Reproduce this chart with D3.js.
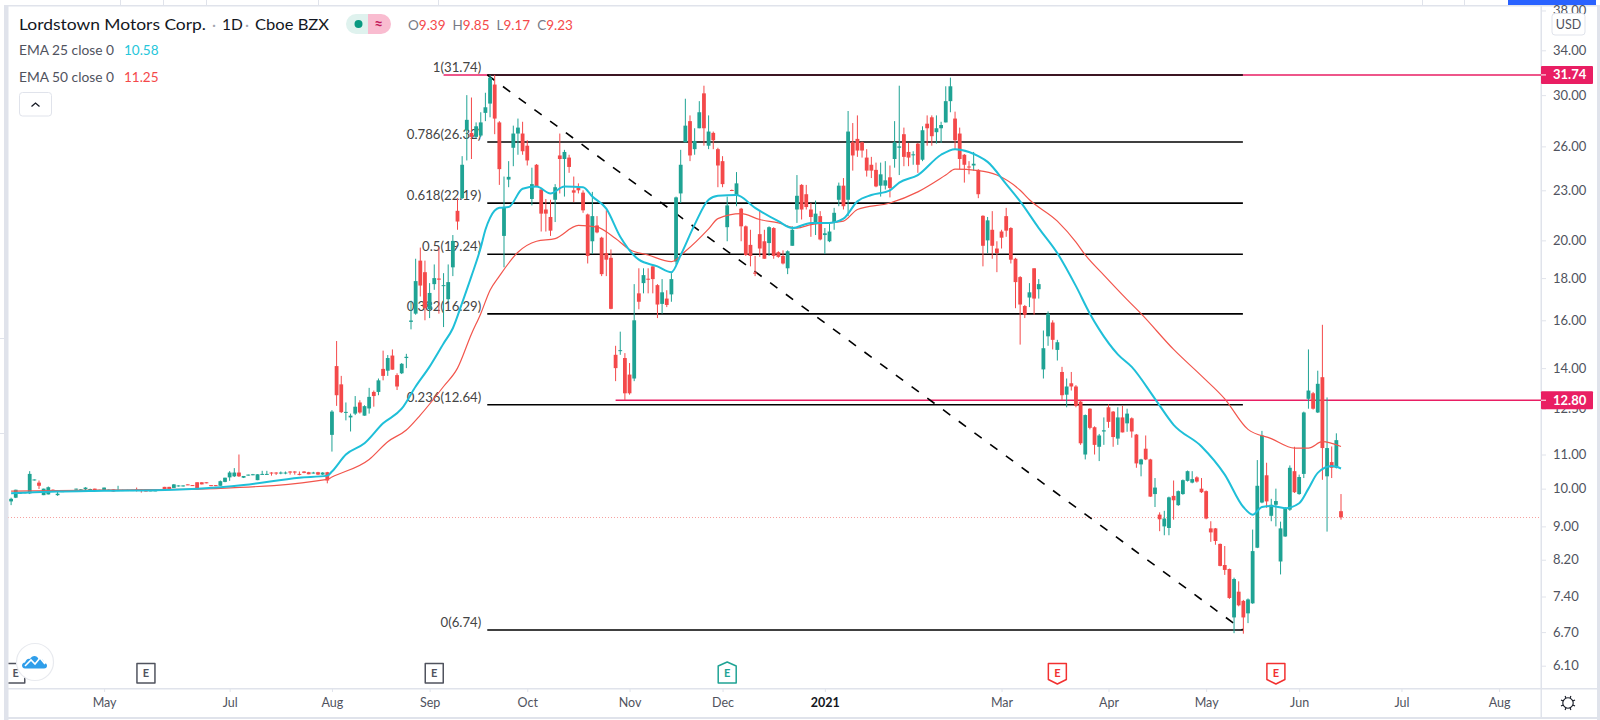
<!DOCTYPE html>
<html>
<head>
<meta charset="utf-8">
<style>
  html, body { margin: 0; padding: 0; background: #fff; overflow: hidden; }
  svg { display: block; }
  text { font-family: Lato, "Open Sans", sans-serif; }
</style>
<script src="https://cdn.jsdelivr.net/npm/d3@7"></script>
</head>
<body>
<svg></svg>
<script>
let svgWidth = 1600;
let svgHeight = 720;

// daily bars, index 0 is the leftmost candle
let opens = [
  9.65,9.75,9.87,9.89,9.87,10.24,10.17,9.82,9.84,9.97,
  9.82,9.92,9.93,9.94,9.98,9.97,9.98,9.98,10,9.97,
  9.95,9.96,9.98,9.95,9.95,9.95,9.95,9.98,9.98,9.98,
  9.94,9.94,9.99,10.05,10.05,10.02,10.07,10.07,10.12,10.1,
  10.18,10.18,10.18,10.1,10.1,10.08,10.19,10.32,10.35,10.46,
  10.31,10.38,10.39,10.24,10.4,10.4,10.46,10.46,10.44,10.44,
  10.49,10.49,10.42,10.49,10.47,10.44,10.47,10.4,10.47,11.62,
  14.08,13.38,12.37,12.2,12.33,12.72,12.26,12.51,13.1,13.1,
  13.97,13.9,14.5,13.73,13.8,14.4,15.93,16.3,18.9,18.3,
  16.5,17.7,17.98,17.6,16.97,18.55,21.72,22.5,27.2,27,
  26.7,26.8,28.55,29.3,30.9,27.8,20.25,23.7,25.9,26.95,
  26.95,26.05,22.45,24.7,23.05,21.8,21.35,22.4,25.35,25.1,
  25.2,23,23.15,22.85,21.5,19.95,20.85,20.15,19.3,19.05,
  14.53,14.68,14.4,13.75,13.6,17.25,17.75,17.97,18.6,17.65,
  16.75,17,17.2,18.85,22.8,26.3,27.9,25.8,27.35,30.15,
  26.05,27,25.8,24.95,20.75,23.02,22.65,21.85,20.8,19.75,
  18.28,20.35,19.95,19.85,20.7,19.35,19.15,18.5,19.7,21.8,
  23.35,22.75,21.8,21,21.4,20.3,19.95,21,22.4,23.3,
  22.4,26.3,26.55,26.3,25.2,24.7,24.35,23.3,23.3,23.85,
  25.1,25.9,26.9,25.6,25.37,26.2,25.05,27.7,28.2,27.05,
  27.35,27.8,29.5,28.1,26.95,25.4,24.58,24.65,24.35,21.42,
  20,20.6,19.55,20.5,21.4,20.7,19,18.05,16.65,17.05,
  18.5,17.45,13.95,15.3,15.9,14.73,13.85,13,13.42,13.3,
  12.75,11,12.5,11.87,11.24,11.73,12.55,12.4,11.5,12.2,
  12,12.17,11.63,10.7,11.18,10.85,9.85,9.3,9,8.96,
  9.8,9.55,9.85,10.22,10.17,10.32,10,9.93,8.95,8.95,
  8.57,8.08,7.99,6.98,7.5,7.31,7.06,7.26,8.48,9.62,
  10.38,9.27,9.56,8.16,8.75,9.43,10.5,9.85,10.42,12.85,
  13.05,12.37,13.65,10.35,10.77,10.6,9.39
];
let highs = [
  9.75,9.97,9.9,9.9,10.5,10.26,10.23,10,10.06,9.98,
  9.95,9.93,9.95,9.96,10,9.99,10.04,10,10,9.97,
  10.03,9.98,9.98,10.08,9.97,9.97,9.97,10.03,9.98,9.98,
  9.96,9.96,9.99,10.05,10.05,10.13,10.09,10.09,10.12,10.1,
  10.18,10.18,10.18,10.1,10.1,10.23,10.31,10.5,10.59,11,
  10.36,10.4,10.42,10.41,10.51,10.51,10.47,10.47,10.49,10.49,
  10.5,10.5,10.49,10.5,10.48,10.48,10.48,10.47,10.48,12.45,
  15.1,13.7,12.72,12.33,12.95,12.8,12.62,13.25,13.15,13.6,
  14.7,14.52,14.75,13.8,14.2,14.57,16.9,19,19.6,18.9,
  17.75,18.7,19.6,18.25,18.7,20.3,22.5,25.3,30,29.8,
  27.8,28.6,30.2,31.74,31.74,27.9,23.9,24.95,27.55,28.1,
  27.85,26.45,24.5,24.75,23.1,22.45,22.4,23.4,26.95,25.75,
  25.4,23.9,23.45,23,21.55,22.9,21.4,20.2,21.75,19.5,
  14.9,15.5,14.6,14.2,17.7,18.5,18.5,18.5,18.6,17.7,
  17.95,17.4,18.25,22.6,25.75,29.7,28.35,27.35,29.5,30.8,
  28.35,27.1,25.9,25.3,22.6,23.05,24.2,21.9,20.85,20.6,
  19.15,21.75,20.6,20.8,20.75,19.4,19.45,19.45,20.8,24,
  23.4,23.35,22.2,22.35,21.7,20.7,21,21.9,23.5,23.8,
  28.7,27.75,28.35,26.35,25.8,25.25,24.85,24.85,24.95,24.65,
  27.9,30.8,27.4,26.25,25.65,26.25,27.5,28.35,28.35,28.35,
  27.85,30.75,31.5,28.65,27.4,25.45,24.95,25.6,24.4,21.45,
  21.35,21.7,19.95,20.6,21.9,20.75,19.05,18.1,16.7,17.75,
  18.5,17.95,15.55,16.4,16,15.15,14.05,13.6,13.85,13.35,
  12.8,12.3,12.52,11.9,11.65,12.2,12.65,12.42,12.55,12.6,
  12.5,12.2,11.65,10.87,11.6,10.87,10.3,9.36,9.4,9.78,
  10.23,9.95,10.26,10.52,10.5,10.35,10.3,9.95,9.13,8.96,
  8.58,8.52,8,7.8,7.72,7.33,7.36,8.92,10.83,11.75,
  10.75,9.72,10,9.12,9.5,10.67,11.24,10.4,12.4,14.75,
  13.1,13.9,15.8,12.9,11.25,11.67,9.85
];
let lows = [
  9.55,9.74,9.86,9.87,9.85,10.23,9.99,9.82,9.84,9.94,
  9.8,9.91,9.92,9.93,9.97,9.96,9.95,9.97,9.95,9.95,
  9.95,9.95,9.92,9.95,9.94,9.94,9.94,9.92,9.89,9.92,
  9.93,9.93,9.96,9.96,9.96,10.02,10.06,10.06,10.1,10.08,
  9.98,10.12,10.15,10.07,10.07,10.08,10.18,10.22,10.33,10.33,
  10.3,10.37,10.38,10.24,10.39,10.39,10.37,10.39,10.41,10.41,
  10.4,10.4,10.38,10.44,10.41,10.43,10.39,10.39,10.15,11.09,
  12.6,12.35,12.1,11.73,12.28,12.33,12.26,12.33,12.57,12.98,
  13.53,13.7,13.94,13.17,13.77,14,15.6,16.25,17.1,16,
  16.1,17.42,16.3,15.7,16.85,18.1,20.6,22.45,25,25.1,
  26.6,26.7,27.9,28.2,26.9,23.35,18.55,23.2,24.6,25.4,
  25.4,24.65,22.05,23.2,20.5,20.5,20.25,21.05,22.8,22.6,
  24.15,22.25,22.8,21.6,18.75,19.25,20.4,18.1,18.1,16.5,
  13.5,14.53,12.8,13,13.5,16.5,17.25,17.25,17.25,16.1,
  16.3,16.6,16.85,18.7,22.2,26.3,24.95,25.4,27.35,26.05,
  25.8,25.8,23.2,23.2,19.95,22.95,22,19.95,19.15,18.6,
  18.1,19.1,19,19.15,19,19.05,18.7,18.2,19.7,21,
  21.2,21.8,20.2,20.3,20,19.25,19.9,20.6,22,21.8,
  21.4,24.3,25.25,25.2,23.9,23.8,23.2,22.6,23.05,22.55,
  24.5,24,24.6,24.6,24.7,24.15,24.95,26.05,26.05,26.2,
  26.25,27.8,28.6,25.8,24.4,23.5,24.05,24.3,22.5,18.6,
  19.3,19,18.3,19.55,20.2,18.75,16.55,14.95,16.1,16.6,
  16.25,17,13.6,14.9,14.75,14.3,12.81,12.55,13.15,12.55,
  11.3,10.85,11.8,11,10.8,11.3,11.85,11.24,11.3,11.7,
  11.72,11.53,10.6,10.35,10.83,9.77,9.5,8.88,8.78,8.78,
  9.17,9.53,9.83,10.2,10.15,10.17,9.88,9.18,8.62,8.55,
  8.05,7.86,7.35,6.68,7.2,6.67,6.87,7.25,8.47,9.6,
  9.48,9.13,9,7.87,8.74,9.4,9.88,9.83,10.3,12.5,
  12.47,12.35,10.25,8.87,10.3,10.58,9.17
];
let closes = [
  9.72,9.97,9.89,9.9,10.42,10.26,10.08,10,10.04,9.95,
  9.86,9.93,9.94,9.95,10,9.98,10.03,9.99,9.95,9.96,
  10.03,9.97,9.92,9.96,9.96,9.96,9.96,9.95,9.95,9.92,
  9.95,9.95,9.96,9.96,9.96,10.12,10.09,10.09,10.1,10.08,
  9.98,10.12,10.15,10.07,10.07,10.21,10.31,10.46,10.46,10.35,
  10.36,10.4,10.41,10.41,10.42,10.42,10.44,10.44,10.46,10.46,
  10.46,10.46,10.4,10.45,10.41,10.46,10.4,10.46,10.23,12.4,
  12.98,12.38,12.39,12.26,12.57,12.37,12.59,12.92,12.95,13.53,
  13.7,14.4,13.94,13.3,14.17,14.45,15.99,17.85,17.63,16.55,
  17.27,18,17.92,17.65,17.8,19.97,21.08,24.7,28,26.7,
  27.5,27.8,29,31.5,28.1,24.4,21.9,23.88,26.95,27.4,
  25.65,25,23.4,23.25,21.55,21.55,20.55,23.2,25.1,25.6,
  24.55,22.85,23,21.75,19.15,21.4,20.45,18.2,18.95,16.52,
  14,14.72,13.05,13.05,16,16.85,18.15,17.93,17.95,16.72,
  17.3,16.7,17.95,22.55,24.7,27.55,25.35,26.4,28.6,27.35,
  27.1,26.45,24.65,23.4,22.05,22.98,23.45,20.8,19.2,19.15,
  18.22,19.55,19,20.75,19.15,19.1,18.75,19.4,20.6,22.65,
  21.8,21.95,21.35,21.55,20.05,20.4,20.5,21.6,23.3,22,
  27.1,25.35,25.7,25.7,24.3,24.3,23.25,24.05,23.65,23.15,
  26.3,26,25.25,25.2,25.43,24.7,27.2,27.35,26.75,27.35,
  27.6,29.5,30.75,26.45,25.1,24.7,24.52,24.77,22.75,19.7,
  21.15,19.7,19.3,20.15,20.55,18.95,17.8,16.72,16.25,17.3,
  17,17.7,14.8,16.3,15.15,15.05,12.98,13.3,13.3,12.6,
  11.35,12.28,11.85,11.3,11.6,11.77,12.05,11.55,12.2,11.7,
  12.33,11.73,10.73,10.85,10.85,9.78,10.03,9.18,9.2,9.76,
  9.68,9.93,10.24,10.5,10.27,10.2,9.9,9.2,8.85,8.64,
  8.06,7.97,7.37,7.77,7.22,6.98,7.34,8.4,10.08,11.6,
  9.65,9.56,9.66,8.95,9.46,10.6,9.9,10.33,12.37,13.15,
  12.5,13.4,11.2,11.2,10.6,11.45,9.23
];

let ema25Bars = [0,5,10,20,35,45,50,62,68,69,72,76,80,84,87,90,93,95,97,99,101,102,103,105,107,110,113,116,119,123,125,128,131,135,139,142,144,147,150,152,156,160,165,168,172,176,179,182,185,189,191,195,200,203,206,208,210,214,217,221,225,229,232,234,238,241,246,250,256,261,265,267,269,271,274,277,279,281,284,286];
let ema25Values = [9.87,9.9,9.92,9.94,9.97,10.04,10.1,10.31,10.37,10.49,11,11.35,12,12.5,13.3,14.06,15,15.65,16.8,18.1,19.6,20.6,21.3,21.9,21.95,23.1,23.25,22.8,23.25,23.2,22.6,21.85,20.2,18.95,18.6,18.3,19.2,20.9,22.4,22.65,22.7,21.9,21.1,20.7,21,21,21.25,22.3,22.7,23,23.5,24,25.4,25.8,25.6,25.3,24.9,23.4,22.3,20.7,19.3,17.6,16.3,15.6,14.55,14.05,12.85,11.95,11.25,10.4,9.5,9.3,9.5,9.53,9.47,9.6,10,10.45,10.65,10.58];
let ema50Bars = [0,30,45,68,69,77,81,85,88,93,96,99,101,103,105,109,113,117,122,126,130,133,137,142,145,150,152,157,161,165,169,172,179,182,189,195,201,203,208,212,217,219,225,229,231,235,240,243,250,256,261,266,271,276,279,282,286];
let ema50Values = [9.93,9.97,10.01,10.26,10.33,10.85,11.4,11.78,12.28,13.3,14,15.4,16.3,17.4,18.1,19.35,19.95,20.1,20.85,20.75,20.1,19.5,19.2,18.85,19.4,20.65,21.25,21.55,21.2,21,20.7,20.9,21.1,21.8,22.2,22.9,24,24.4,24.3,24,23,22.4,21.1,19.9,19.2,18.15,16.95,16.3,14.75,13.7,12.85,11.8,11.5,11.2,11.2,11.4,11.25];

let fibRatios = ["1", "0.786", "0.618", "0.5", "0.382", "0.236", "0"];
let fibPrices = [31.74, 26.32, 22.19, 19.24, 16.29, 12.64, 6.74];
let fibStartBar = 102.4;
let fibEndBar = 264.9;
let rayPrices = [31.74, 12.80];
let rayStartBars = [93, 130];

let priceTicks = [38, 34, 30, 26, 23, 20, 18, 16, 14, 12.5, 11, 10, 9, 8.2, 7.4, 6.7, 6.1];
let timeTickBars = [20, 47, 69, 90, 111, 133, 153, 175, 213, 236, 257, 277, 299, 320];
let timeTickLabels = ["May", "Jul", "Aug", "Sep", "Oct", "Nov", "Dec", "2021", "Mar", "Apr", "May", "Jun", "Jul", "Aug"];

let earningsBars = [1, 29, 91, 154, 225, 272];
let earningsKinds = ["none", "none", "none", "beat", "miss", "miss"];

let lastPrice = 9.23;
let upColor = "#1fa394";
let downColor = "#f4494a";
let pink = "#e91e63";
let frameColor = "#e0e3eb";
let axisRight = 1541;

let svg = d3.select("svg").attr("width", svgWidth).attr("height", svgHeight);
let xScale = d3.scaleLinear().domain([0, 286]).range([11.1, 1341]);
let yScale = d3.scaleLog().domain([6.1, 34]).range([665.7, 50.3]);

svg.append("defs").append("clipPath").attr("id", "pane")
    .append("rect").attr("x", 8.5).attr("y", 6).attr("width", axisRight - 8.5).attr("height", 682);

function draw_frame() {
    let g = svg.append("g");
    g.append("rect").attr("x", 4).attr("y", 5).attr("width", 4.5).attr("height", 715).attr("fill", frameColor);
    g.append("rect").attr("x", 4).attr("y", 5).attr("width", 1596).attr("height", 1.5).attr("fill", frameColor);
    g.append("rect").attr("x", 1597).attr("y", 5).attr("width", 3).attr("height", 715).attr("fill", frameColor);
    g.append("rect").attr("x", 4).attr("y", 717).attr("width", 1596).attr("height", 2).attr("fill", frameColor);
    g.append("rect").attr("x", 1508).attr("y", 0).attr("width", 88).attr("height", 5).attr("fill", "#2962ff");
    [120, 163, 206, 318, 438, 1422, 1464].forEach(function (x) {
        g.append("rect").attr("x", x).attr("y", 0).attr("width", 1).attr("height", 5).attr("fill", frameColor);
    });
    [338, 433].forEach(function (y) {
        g.append("rect").attr("x", 0).attr("y", y).attr("width", 4).attr("height", 1).attr("fill", frameColor);
    });
    g.append("rect").attr("x", axisRight - 0.5).attr("y", 6).attr("width", 1.5).attr("height", 711).attr("fill", frameColor);
    g.append("rect").attr("x", 8).attr("y", 688).attr("width", 1589).attr("height", 1.5).attr("fill", frameColor);
}

function draw_drawings(pane) {
    // last price, rays and fib sit under the candles
    pane.append("line")
        .attr("x1", 8).attr("x2", axisRight)
        .attr("y1", Math.round(yScale(lastPrice)) + 0.5).attr("y2", Math.round(yScale(lastPrice)) + 0.5)
        .attr("stroke", "#ef5350").attr("stroke-opacity", 0.55).attr("stroke-width", 1).attr("stroke-dasharray", "1 2");

    rayPrices.forEach(function (p, i) {
        pane.append("line")
            .attr("x1", xScale(rayStartBars[i])).attr("x2", axisRight)
            .attr("y1", yScale(p)).attr("y2", yScale(p))
            .attr("stroke", pink).attr("stroke-width", 1.4);
    });

    fibPrices.forEach(function (p, i) {
        pane.append("line")
            .attr("x1", xScale(fibStartBar)).attr("x2", xScale(fibEndBar))
            .attr("y1", yScale(p)).attr("y2", yScale(p))
            .attr("stroke", "#000").attr("stroke-width", 1.6);
        pane.append("text")
            .attr("x", xScale(fibStartBar) - 6)
            .attr("y", yScale(p) - 3)
            .attr("text-anchor", "end")
            .attr("font-size", 13.2)
            .attr("fill", "#444")
            .text(fibRatios[i] + "(" + p.toFixed(2) + ")");
    });

    pane.append("line")
        .attr("x1", xScale(fibStartBar)).attr("y1", yScale(fibPrices[0]))
        .attr("x2", xScale(fibEndBar)).attr("y2", yScale(fibPrices[6]))
        .attr("stroke", "#000").attr("stroke-width", 1.6).attr("stroke-dasharray", "9 10.5");
}

function draw_candles(pane) {
    let g = pane.append("g");
    let bars = d3.range(opens.length);
    g.selectAll("line.wick").data(bars).join("line")
        .attr("class", "wick")
        .attr("x1", d => xScale(d)).attr("x2", d => xScale(d))
        .attr("y1", d => yScale(highs[d])).attr("y2", d => yScale(lows[d]))
        .attr("stroke", d => closes[d] >= opens[d] ? upColor : downColor)
        .attr("stroke-width", 1);
    g.selectAll("rect.body").data(bars).join("rect")
        .attr("class", "body")
        .attr("x", d => xScale(d) - 1.9)
        .attr("width", 3.8)
        .attr("y", d => yScale(Math.max(opens[d], closes[d])))
        .attr("height", d => Math.max(1, Math.abs(yScale(opens[d]) - yScale(closes[d]))))
        .attr("fill", d => closes[d] >= opens[d] ? upColor : downColor);
}

function draw_ema(pane, bars, values, color, width) {
    let line = d3.line()
        .x(d => xScale(d))
        .y((d, i) => yScale(values[i]))
        .curve(d3.curveMonotoneX);
    pane.append("path")
        .attr("d", line(bars))
        .attr("fill", "none")
        .attr("stroke", color)
        .attr("stroke-width", width);
}

function draw_axes() {
    let priceAxis = d3.axisRight(yScale).tickValues(priceTicks)
        .tickSize(5).tickPadding(7).tickFormat(d3.format(".2f"));
    let py = svg.append("g").attr("transform", "translate(" + axisRight + ",0)").call(priceAxis);
    py.select(".domain").remove();
    py.selectAll("line").attr("stroke", frameColor);
    py.selectAll("text").attr("font-size", 13).attr("fill", "#50535e");

    let timeAxis = d3.axisBottom(xScale).tickValues(timeTickBars)
        .tickSize(4).tickPadding(6).tickFormat((d, i) => timeTickLabels[i]);
    let tx = svg.append("g").attr("transform", "translate(0,688)").call(timeAxis);
    tx.select(".domain").remove();
    tx.selectAll("line").attr("stroke", frameColor);
    tx.selectAll("text").attr("font-size", 12.5).attr("fill", "#50535e")
        .filter(d => d === 175).attr("font-weight", 700).attr("fill", "#131722");
}

function draw_price_labels() {
    rayPrices.forEach(function (p) {
        let y = yScale(p);
        svg.append("rect").attr("x", axisRight).attr("y", y - 9).attr("width", 52).attr("height", 18)
            .attr("rx", 1).attr("fill", pink);
        svg.append("line").attr("x1", axisRight).attr("x2", axisRight + 5).attr("y1", y).attr("y2", y)
            .attr("stroke", "#fff");
        svg.append("text").attr("x", axisRight + 12).attr("y", y + 4.5)
            .attr("font-size", 13).attr("font-weight", 700).attr("fill", "#fff")
            .text(p.toFixed(2));
    });
    svg.append("rect").attr("x", 1552).attr("y", 13.5).attr("width", 33).attr("height", 21.5).attr("rx", 3)
        .attr("fill", "#fff").attr("stroke", frameColor);
    svg.append("text").attr("x", 1568.5).attr("y", 29).attr("text-anchor", "middle")
        .attr("font-size", 12.5).attr("fill", "#50535e").text("USD");
}

function draw_marker(bar, kind) {
    let x = xScale(bar);
    let color = kind === "beat" ? "#1fa394" : kind === "miss" ? "#f23030" : "#50535e";
    let top = kind === "beat" ? 666 : 663.5;
    let bottom = kind === "miss" ? 679.5 : 683;
    let p = d3.path();
    p.moveTo(x - 9, top);
    if (kind === "beat") p.lineTo(x, 662);
    p.lineTo(x + 9, top);
    p.lineTo(x + 9, bottom);
    if (kind === "miss") p.lineTo(x, 684);
    p.lineTo(x - 9, bottom);
    p.closePath();
    let m = svg.append("g").attr("clip-path", "url(#pane)");
    m.append("path").attr("d", p.toString()).attr("fill", "#fff")
        .attr("stroke", color).attr("stroke-width", 1.5).attr("stroke-linejoin", "round");
    m.append("text").attr("x", x).attr("y", 677).attr("text-anchor", "middle")
        .attr("font-size", 11).attr("font-weight", 700).attr("fill", color).text("E");
}

function draw_logo() {
    let g = svg.append("g").attr("transform", "translate(35,662)");
    g.append("circle").attr("r", 18.5).attr("fill", "#fff").attr("stroke", "#e8eaef").attr("stroke-width", 1.2);
    g.append("path")
        .attr("d", "M-10,6.5 C-14,6.5 -14,0.5 -10,0.5 C-9,-2 -7,-4 -5,-3 C-3,-7 2,-7 3.5,-3 C6,-4 9,-2 9,1 C13,1 13,6.5 9,6.5 Z")
        .attr("fill", "#2f9eea");
    g.append("path")
        .attr("d", "M-10,4 L-4,-2 L0,2 L5,-4 L10,2")
        .attr("fill", "none").attr("stroke", "#fff").attr("stroke-width", 1.6);
}

function draw_gear() {
    let g = svg.append("g").attr("transform", "translate(1568,703)")
        .attr("fill", "none").attr("stroke", "#131722").attr("stroke-width", 1.1);
    g.append("circle").attr("r", 5.2);
    d3.range(8).forEach(function (k) {
        let a = k * Math.PI / 4 + Math.PI / 8;
        g.append("line")
            .attr("x1", 5.2 * Math.cos(a)).attr("y1", 5.2 * Math.sin(a))
            .attr("x2", 7.6 * Math.cos(a)).attr("y2", 7.6 * Math.sin(a));
    });
}

function draw_legend() {
    svg.append("text").attr("x", 19).attr("y", 30).attr("font-size", 15.5).attr("fill", "#131722")
        .attr("textLength", 187).attr("lengthAdjust", "spacingAndGlyphs")
        .text("Lordstown Motors Corp.");
    svg.append("text").attr("x", 212).attr("y", 30).attr("font-size", 15.5).attr("fill", "#a3a6af").text("·");
    svg.append("text").attr("x", 222).attr("y", 30).attr("font-size", 15.5).attr("fill", "#131722").text("1D");
    svg.append("text").attr("x", 245).attr("y", 30).attr("font-size", 15.5).attr("fill", "#a3a6af").text("·");
    svg.append("text").attr("x", 255).attr("y", 30).attr("font-size", 15.5).attr("fill", "#131722")
        .attr("textLength", 74).attr("lengthAdjust", "spacingAndGlyphs")
        .text("Cboe BZX");

    // status pill
    svg.append("path").attr("d", "M368,14 H356 a10,10 0 0 0 0,20 H368 Z").attr("fill", "#dff2ee");
    svg.append("path").attr("d", "M368,14 H381 a10,10 0 0 1 0,20 H368 Z").attr("fill", "#f9bcd0");
    svg.append("circle").attr("cx", 358.5).attr("cy", 24).attr("r", 4).attr("fill", "#089981");
    svg.append("text").attr("x", 378.5).attr("y", 29).attr("text-anchor", "middle")
        .attr("font-size", 15).attr("font-weight", 700).attr("fill", "#c2185b").text("≈");

    let ohlcLabels = ["O", "H", "L", "C"];
    let ohlcValues = [opens[286], highs[286], lows[286], closes[286]];
    let ohlc = svg.append("text").attr("x", 408).attr("y", 30).attr("font-size", 13.5);
    ohlcLabels.forEach(function (l, i) {
        ohlc.append("tspan").attr("fill", "#787b86").attr("dx", i ? 7 : 0).text(l);
        ohlc.append("tspan").attr("fill", "#f4494a").text(ohlcValues[i].toFixed(2));
    });

    svg.append("text").attr("x", 19).attr("y", 55).attr("font-size", 13.5).attr("fill", "#50535e")
        .attr("textLength", 95).attr("lengthAdjust", "spacingAndGlyphs").text("EMA 25 close 0");
    svg.append("text").attr("x", 124).attr("y", 55).attr("font-size", 13.5).attr("fill", "#26c6da").text("10.58");
    svg.append("text").attr("x", 19).attr("y", 82).attr("font-size", 13.5).attr("fill", "#50535e")
        .attr("textLength", 95).attr("lengthAdjust", "spacingAndGlyphs").text("EMA 50 close 0");
    svg.append("text").attr("x", 124).attr("y", 82).attr("font-size", 13.5).attr("fill", "#f4494a").text("11.25");

    svg.append("rect").attr("x", 19.5).attr("y", 92.5).attr("width", 32).attr("height", 23.5).attr("rx", 3)
        .attr("fill", "#fff").attr("stroke", frameColor);
    svg.append("path").attr("d", "M31.5,106.5 L35.5,103 L39.5,106.5").attr("fill", "none")
        .attr("stroke", "#131722").attr("stroke-width", 1.3);
}

draw_frame();
let pane = svg.append("g").attr("clip-path", "url(#pane)");
draw_drawings(pane);
draw_candles(pane);
draw_ema(pane, ema50Bars, ema50Values, "#f2554c", 1.2);
draw_ema(pane, ema25Bars, ema25Values, "#1fbfd8", 2);
draw_axes();
draw_price_labels();
earningsBars.forEach(function (b, i) { draw_marker(b, earningsKinds[i]); });
draw_logo();
draw_gear();
draw_legend();
</script>
</body>
</html>
